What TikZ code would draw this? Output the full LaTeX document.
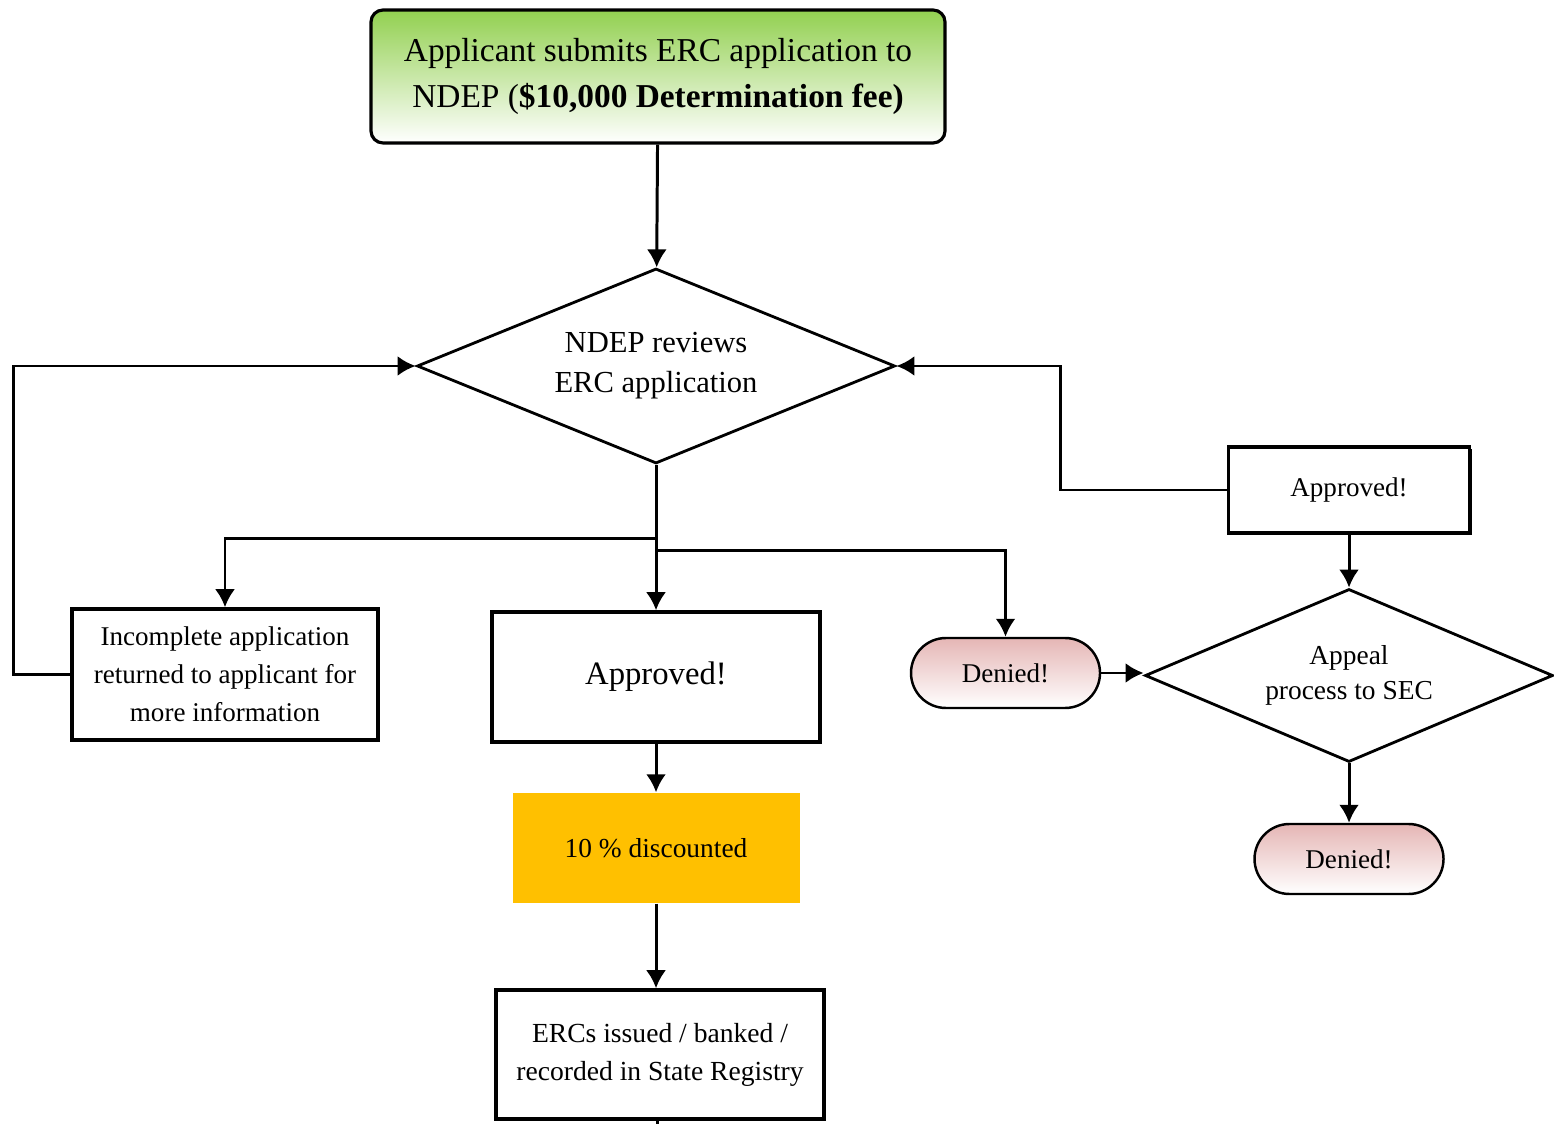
\documentclass[tikz,border=0pt]{standalone}
\usepackage{fontspec}
\setmainfont{Liberation Serif}
\usepackage{tikz}
\usetikzlibrary{positioning,arrows.meta,calc,shapes.geometric,shadows}
\definecolor{startgreen}{RGB}{146,208,80}
\definecolor{deniedpink}{RGB}{229,182,181}
\definecolor{discountgold}{RGB}{255,192,0}
\tikzset{
  flowarrow/.style={-{Latex[length=1.8mm,width=2mm]}, line width=0.85pt},
  flowline/.style={line width=0.85pt},
  startbox/.style={draw, rounded corners=1.2mm, line width=0.9pt, top color=startgreen, bottom color=white, minimum width=5.74cm, minimum height=1.33cm, align=center, font=\fontsize{9.5}{13.1}\selectfont},
  reviewbox/.style={draw, diamond, aspect=2.45, line width=0.8pt, inner sep=0pt, minimum width=4.78cm, minimum height=1.95cm, align=center, font=\fontsize{8.7}{11.4}\selectfont},
  appealbox/.style={draw, diamond, aspect=2.36, line width=0.8pt, inner sep=0pt, minimum width=4.08cm, minimum height=1.73cm, align=center, font=\fontsize{7.8}{9.8}\selectfont},
  plainbox/.style={draw, line width=1pt, fill=white, minimum width=3.06cm, minimum height=1.31cm, align=center, font=\fontsize{7.7}{10.8}\selectfont},
  resultbox/.style={draw, line width=1pt, fill=white, align=center, drop shadow={shadow xshift=0.6pt, shadow yshift=-0.6pt, opacity=1, fill=black}},
  deniedbox/.style={draw, rounded corners=3.5mm, line width=0.7pt, top color=deniedpink, bottom color=white, minimum width=1.89cm, minimum height=0.70cm, align=center, font=\fontsize{7.7}{9.5}\selectfont},
  discountbox/.style={fill=discountgold, minimum width=2.87cm, minimum height=1.10cm, align=center, font=\fontsize{7.8}{9.5}\selectfont}
}
\begin{document}
\begin{tikzpicture}
  \useasboundingbox (0,0) rectangle (15.54,-11.24);
  \node[startbox] (submit) at (6.58,-0.765) {Applicant submits ERC application to\\NDEP (\textbf{\$10,000 Determination fee)}};
  \node[reviewbox] (review) at (6.56,-3.66) {NDEP reviews\\ERC application};
  \node[plainbox] (incomplete) at (2.25,-6.745) {Incomplete application\\returned to applicant for\\more information};
  \node[resultbox, minimum width=3.28cm, minimum height=1.30cm, font=\fontsize{9.3}{11}\selectfont] (approved) at (6.56,-6.77) {Approved!};
  \node[discountbox] (discount) at (6.56,-8.48) {10 \% discounted};
  \node[resultbox, minimum width=3.28cm, minimum height=1.29cm, font=\fontsize{7.85}{10.8}\selectfont] (registry) at (6.60,-10.545) {ERCs issued / banked /\\recorded in State Registry};
  \coordinate (stub) at (6.57,-11.24);
  \node[deniedbox] (denied) at (10.055,-6.73) {Denied!};
  \node[appealbox] (appeal) at (13.49,-6.755) {Appeal\\process to SEC};
  \node[resultbox, minimum width=2.41cm, minimum height=0.86cm, font=\fontsize{7.7}{9.5}\selectfont] (appealok) at (13.49,-4.90) {Approved!};
  \node[deniedbox] (denied2) at (13.49,-8.59) {Denied!};

  \draw[flowarrow] (submit) -- (review);
  \draw[flowarrow] (review.south) -- ++(0,-0.74) -| (incomplete.north);
  \draw[flowarrow] (review.south) -- (approved.north);
  \draw[flowarrow] (review.south) -- ++(0,-0.86) -| (denied.north);
  \draw[flowarrow] (incomplete.west) -- ++(-0.57,0) |- (review.west);
  \draw[flowarrow] (approved) -- (discount);
  \draw[flowarrow] (discount.south) -- (discount.south |- registry.north);
  \draw[flowline] (registry.south -| stub) -- (stub);
  \draw[flowarrow] (denied.east) -- (denied.east -| appeal.west);
  \draw[flowarrow] (appealok.west) -- ++(-1.66,0) |- (review.east);
  \draw[flowarrow] (appealok) -- (appeal);
  \draw[flowarrow] (appeal) -- (denied2);
\end{tikzpicture}
\end{document}
